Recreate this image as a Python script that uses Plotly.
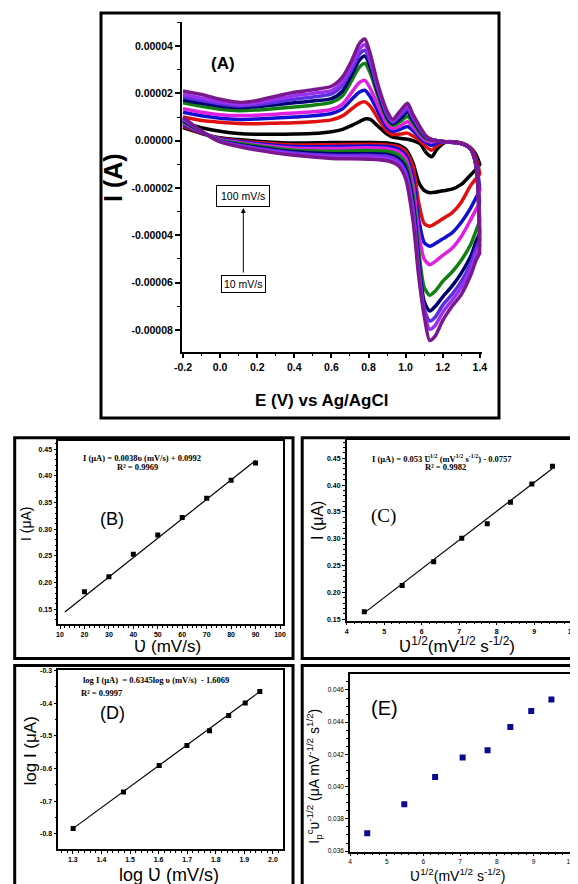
import plotly.graph_objects as go

# The page body adds an 8 px margin, so the figure is sized and positioned to compensate.
OFF = 8
W, H = 570, 876

# ---------------- Panel A: cyclic voltammograms (current in units of 1e-5 A) ----------------
E_fwd = [-0.2, -0.1, 0.0, 0.1, 0.2, 0.3, 0.4, 0.5, 0.6, 0.66, 0.71, 0.75, 0.78, 0.81, 0.85,
         0.9, 0.93, 0.97, 1.01, 1.04, 1.08, 1.11, 1.14, 1.17, 1.22, 1.3, 1.35, 1.38, 1.4]
E_rev = [1.4, 1.38, 1.35, 1.3, 1.25, 1.2, 1.16, 1.13, 1.1, 1.07, 1.04, 1.0, 0.96, 0.9, 0.8,
         0.6, 0.4, 0.2, 0.0, -0.1, -0.2]

cv_rates = ["10 mV/s", "20 mV/s", "30 mV/s", "40 mV/s", "50 mV/s",
            "60 mV/s", "70 mV/s", "80 mV/s", "90 mV/s"]
cv_colors = ["#000000", "#e01010", "#1010d0", "#e020e0", "#108010",
             "#000070", "#5a30e0", "#9a30f0", "#7a1890"]

cv_fwd_10 = [0.75, 0.55, 0.40, 0.30, 0.27, 0.27, 0.28, 0.30, 0.38, 0.48, 0.65, 0.80, 0.92, 0.90, 0.62,
             0.28, 0.15, 0.10, 0.06, 0.00, -0.15, -0.50, -0.68, -0.35, -0.05, -0.10, -0.30, -0.60, -1.00]
cv_fwd_20 = [1.00, 0.85, 0.78, 0.73, 0.72, 0.74, 0.76, 0.80, 0.88, 1.05, 1.35, 1.58, 1.64, 1.45, 0.95,
             0.40, 0.26, 0.28, 0.32, 0.20, -0.02, -0.25, -0.40, -0.20, -0.05, -0.10, -0.30, -0.75, -1.40]
cv_fwd_30 = [1.20, 1.05, 0.95, 0.90, 0.92, 0.96, 1.00, 1.05, 1.15, 1.35, 1.75, 2.05, 2.13, 1.85, 1.25,
             0.55, 0.40, 0.48, 0.60, 0.42, 0.10, -0.08, -0.20, -0.10, -0.05, -0.12, -0.35, -0.90, -2.10]
cv_fwd_40 = [1.35, 1.20, 1.10, 1.06, 1.08, 1.12, 1.17, 1.22, 1.32, 1.55, 2.05, 2.45, 2.55, 2.20, 1.50,
             0.70, 0.50, 0.62, 0.80, 0.58, 0.20, 0.00, -0.05, -0.02, -0.05, -0.12, -0.35, -1.00, -2.60]
cv_fwd_50 = [1.60, 1.45, 1.33, 1.27, 1.30, 1.36, 1.42, 1.50, 1.62, 1.90, 2.55, 3.10, 3.26, 2.85, 1.90,
             0.90, 0.65, 0.80, 1.02, 0.75, 0.30, 0.08, 0.02, 0.00, -0.05, -0.12, -0.35, -1.05, -3.40]
cv_fwd_60 = [1.72, 1.58, 1.46, 1.40, 1.44, 1.52, 1.60, 1.68, 1.78, 2.10, 2.80, 3.40, 3.58, 3.10, 2.05,
             1.00, 0.72, 0.92, 1.20, 0.85, 0.38, 0.12, 0.04, 0.00, -0.05, -0.12, -0.35, -1.05, -3.90]
cv_fwd_70 = [1.85, 1.70, 1.56, 1.47, 1.52, 1.62, 1.75, 1.85, 1.98, 2.35, 3.00, 3.65, 3.82, 3.30, 2.20,
             1.10, 0.78, 1.05, 1.33, 0.95, 0.45, 0.15, 0.05, 0.00, -0.05, -0.12, -0.35, -1.08, -4.20]
cv_fwd_80 = [1.95, 1.80, 1.64, 1.53, 1.60, 1.75, 1.90, 2.00, 2.12, 2.50, 3.20, 3.85, 4.05, 3.45, 2.30,
             1.18, 0.84, 1.15, 1.45, 1.02, 0.50, 0.18, 0.05, 0.00, -0.05, -0.12, -0.35, -1.10, -4.45]
cv_fwd_90 = [2.10, 1.95, 1.75, 1.62, 1.70, 1.88, 2.05, 2.15, 2.30, 2.70, 3.40, 4.10, 4.30, 3.65, 2.40,
             1.25, 0.90, 1.25, 1.58, 1.10, 0.55, 0.20, 0.05, 0.00, -0.05, -0.12, -0.35, -1.10, -4.75]

cv_rev_10 = [-1.00, -1.20, -1.45, -1.85, -2.05, -2.12, -2.18, -2.20, -2.10, -1.75, -0.95, -0.35, -0.18,
             -0.10, -0.08, -0.08, -0.10, -0.02, 0.12, 0.30, 0.55]
cv_rev_20 = [-1.40, -1.60, -1.90, -2.60, -3.05, -3.30, -3.50, -3.62, -3.50, -2.60, -1.10, -0.45, -0.25,
             -0.18, -0.15, -0.17, -0.18, -0.08, 0.10, 0.32, 0.62]
cv_rev_30 = [-2.10, -2.40, -2.85, -3.45, -3.90, -4.15, -4.35, -4.46, -4.30, -3.30, -1.55, -0.60, -0.35,
             -0.25, -0.22, -0.25, -0.25, -0.12, 0.08, 0.34, 0.68]
cv_rev_40 = [-2.60, -2.90, -3.35, -4.05, -4.55, -4.85, -5.10, -5.24, -5.00, -3.90, -1.90, -0.75, -0.45,
             -0.33, -0.30, -0.33, -0.32, -0.17, 0.05, 0.36, 0.74]
cv_rev_50 = [-3.40, -3.80, -4.40, -5.05, -5.55, -5.95, -6.35, -6.53, -6.20, -4.60, -2.30, -0.95, -0.60,
             -0.45, -0.42, -0.45, -0.40, -0.22, 0.02, 0.37, 0.80]
cv_rev_60 = [-3.90, -4.25, -4.90, -5.60, -6.15, -6.60, -7.00, -7.20, -6.80, -5.00, -2.60, -1.15, -0.75,
             -0.58, -0.55, -0.55, -0.47, -0.28, -0.01, 0.38, 0.85]
cv_rev_70 = [-4.20, -4.55, -5.20, -5.95, -6.50, -6.95, -7.45, -7.62, -7.10, -5.30, -2.85, -1.30, -0.85,
             -0.66, -0.62, -0.62, -0.52, -0.32, -0.02, 0.39, 0.90]
cv_rev_80 = [-4.45, -4.80, -5.45, -6.20, -6.75, -7.25, -7.80, -7.97, -7.25, -5.50, -3.10, -1.45, -0.95,
             -0.75, -0.70, -0.68, -0.57, -0.36, -0.03, 0.40, 0.95]
cv_rev_90 = [-4.75, -5.05, -5.70, -6.50, -7.00, -7.60, -8.25, -8.45, -7.40, -5.70, -3.40, -1.60, -1.05,
             -0.85, -0.78, -0.75, -0.62, -0.40, -0.05, 0.40, 1.00]

cv_fwd = [cv_fwd_10, cv_fwd_20, cv_fwd_30, cv_fwd_40, cv_fwd_50, cv_fwd_60, cv_fwd_70, cv_fwd_80, cv_fwd_90]
cv_rev = [cv_rev_10, cv_rev_20, cv_rev_30, cv_rev_40, cv_rev_50, cv_rev_60, cv_rev_70, cv_rev_80, cv_rev_90]
I_UNIT = 1e-5

a_xticks = [-0.2, 0.0, 0.2, 0.4, 0.6, 0.8, 1.0, 1.2, 1.4]
a_xticktext = ["-0.2", "0.0", "0.2", "0.4", "0.6", "0.8", "1.0", "1.2", "1.4"]
a_yticks = [4e-5, 2e-5, 0.0, -2e-5, -4e-5, -6e-5, -8e-5]
a_yticktext = ["0.00004", "0.00002", "0.00000", "-0.00002", "-0.00004", "-0.00006", "-0.00008"]

# ---------------- Panels B-E ----------------
scan_rate = [20, 30, 40, 50, 60, 70, 80, 90]
ip_B = [0.183, 0.211, 0.253, 0.289, 0.322, 0.358, 0.392, 0.424]
fitB_x = [12, 90]
fitB_y = [0.145, 0.429]

sqrt_rate = [4.47, 5.48, 6.32, 7.07, 7.75, 8.37, 8.94, 9.49]
ip_C = [0.164, 0.213, 0.257, 0.301, 0.328, 0.368, 0.402, 0.435]
fitC_x = [4.47, 9.49]
fitC_y = [0.162, 0.431]

log_rate = [1.301, 1.477, 1.602, 1.699, 1.778, 1.845, 1.903, 1.954]
log_ip = [-0.783, -0.672, -0.591, -0.530, -0.485, -0.438, -0.400, -0.365]
fitD_x = [1.301, 1.954]
fitD_y = [-0.783, -0.365]
d_yticks = [-0.8, -0.7, -0.6, -0.5, -0.4, -0.3]
d_yticktext = ["-0.8", "-0.7", "-0.6", "-0.5", "-0.4", "-0.3"]

ip_norm_E = [0.0371, 0.0389, 0.0406, 0.0418, 0.04225, 0.0437, 0.0447, 0.0454]

# ---------------- helpers (screen pixel -> paper fraction) ----------------
def px(x):
    return (x - OFF) / W

def py(y):
    return 1 - (y - OFF) / H

SANS = "Liberation Sans"
SERIF = "Liberation Serif"

fig = go.Figure()

# Panel A traces
for name, col, f, r in zip(cv_rates, cv_colors, cv_fwd, cv_rev):
    fig.add_trace(go.Scatter(
        x=E_fwd + E_rev, y=[v * I_UNIT for v in (f + r)],
        mode="lines", line=dict(color=col, width=3.5, shape="spline", smoothing=0.7),
        name=name, xaxis="x", yaxis="y", showlegend=False))

# Panel B
fig.add_trace(go.Scatter(x=fitB_x, y=fitB_y, mode="lines", line=dict(color="black", width=1.2),
                         xaxis="x2", yaxis="y2", showlegend=False))
fig.add_trace(go.Scatter(x=scan_rate, y=ip_B, mode="markers",
                         marker=dict(symbol="square", size=5, color="black"),
                         xaxis="x2", yaxis="y2", showlegend=False))
# Panel C
fig.add_trace(go.Scatter(x=fitC_x, y=fitC_y, mode="lines", line=dict(color="black", width=1.2),
                         xaxis="x3", yaxis="y3", showlegend=False))
fig.add_trace(go.Scatter(x=sqrt_rate, y=ip_C, mode="markers",
                         marker=dict(symbol="square", size=5, color="black"),
                         xaxis="x3", yaxis="y3", showlegend=False))
# Panel D
fig.add_trace(go.Scatter(x=fitD_x, y=fitD_y, mode="lines", line=dict(color="black", width=1.2),
                         xaxis="x4", yaxis="y4", showlegend=False))
fig.add_trace(go.Scatter(x=log_rate, y=log_ip, mode="markers",
                         marker=dict(symbol="square", size=5, color="black"),
                         xaxis="x4", yaxis="y4", showlegend=False))
# Panel E
fig.add_trace(go.Scatter(x=sqrt_rate, y=ip_norm_E, mode="markers",
                         marker=dict(symbol="square", size=6, color="#0a0a90"),
                         xaxis="x5", yaxis="y5", showlegend=False))

small_tick = dict(family=SANS, size=7, color="black", weight="bold")

def small_axis(domain, rng, mirror=True, **kw):
    d = dict(domain=domain, range=rng, showline=True, linecolor="black", linewidth=1.5,
             mirror=mirror, ticks="outside", ticklen=3, tickwidth=1, tickcolor="black",
             showgrid=False, zeroline=False, tickfont=small_tick, automargin=False,
             minor=dict(ticks="outside", ticklen=2, tickcolor="black"))
    d.update(kw)
    return d

layout = dict(
    template="none",
    width=W, height=H, autosize=False, margin=dict(l=0, r=0, t=0, b=0, pad=0),
    paper_bgcolor="white", plot_bgcolor="rgba(0,0,0,0)", showlegend=False,
    xaxis=dict(domain=[px(181.7), px(481.7)], range=[-0.207, 1.41], anchor="y", automargin=False,
               showline=True, linecolor="black", linewidth=1.5, mirror=False,
               ticks="outside", ticklen=5, tickwidth=1.5, tickcolor="black",
               tickmode="array", tickvals=a_xticks, ticktext=a_xticktext,
               tickfont=dict(family=SANS, size=10.5, color="black", weight="bold"),
               minor=dict(ticks="outside", ticklen=3, tickwidth=1, tickcolor="black", dtick=0.1, tick0=-0.2),
               showgrid=False, zeroline=False),
    yaxis=dict(domain=[py(351.7), py(21.7)], range=[-8.92e-5, 5.03e-5], anchor="x", automargin=False,
               showline=True, linecolor="black", linewidth=1.5, mirror=False,
               ticks="outside", ticklen=5, tickwidth=1.5, tickcolor="black",
               tickmode="array", tickvals=a_yticks, ticktext=a_yticktext,
               tickfont=dict(family=SANS, size=10.5, color="black", weight="bold"),
               minor=dict(ticks="outside", ticklen=3, tickwidth=1, tickcolor="black", dtick=1e-5, tick0=0),
               showgrid=False, zeroline=False),
    xaxis2=small_axis([px(58.3), px(282.7)], [9.3, 101.1], anchor="y2", dtick=10, tick0=10),
    yaxis2=small_axis([py(624), py(440.7)], [0.1224, 0.466], anchor="x2", dtick=0.05, tick0=0.15,
                      tickformat=".2f"),
    xaxis3=small_axis([px(346.7), px(572.7)], [4, 10.03], anchor="y3", dtick=1, tick0=4),
    yaxis3=small_axis([py(620.7), py(440)], [0.1474, 0.484], anchor="x3", dtick=0.05, tick0=0.15,
                      tickformat=".2f"),
    xaxis4=small_axis([px(58.3), px(282.7)], [1.249, 2.034], anchor="y4", dtick=0.1, tick0=1.3,
                      tickformat=".1f"),
    yaxis4=small_axis([py(849), py(670)], [-0.846, -0.299], anchor="x4", tickmode="array",
                      tickvals=d_yticks, ticktext=d_yticktext),
    xaxis5=small_axis([px(350), px(572.7)], [4, 10.07], anchor="y5", dtick=1, tick0=4,
                      tickfont=dict(family=SANS, size=6.5, color="black")),
    yaxis5=small_axis([py(851.7), py(674)], [0.03596, 0.04699], anchor="x5", dtick=0.002, tick0=0.036,
                      tickformat=".3f", tickfont=dict(family=SANS, size=6.5, color="black")),
)
fig.update_layout(**layout)

# Frames around panels
frames = [(101, 13, 499, 418), (14.7, 437.7, 293, 658.5), (302.2, 437.7, 576.9, 658.5),
          (14.7, 665.5, 293, 892), (302.2, 665.5, 576.9, 892)]
for x0, y0, x1, y1 in frames:
    fig.add_shape(type="rect", xref="paper", yref="paper", x0=px(x0), x1=px(x1), y0=py(y1), y1=py(y0),
                  line=dict(color="black", width=3), fillcolor="rgba(0,0,0,0)", layer="above")

def note(text, x, y, size, family=SANS, bold=False, angle=0, **kw):
    fig.add_annotation(text=("<b>%s</b>" % text) if bold else text, x=px(x), y=py(y),
                       xref="paper", yref="paper", showarrow=False, textangle=angle,
                       xanchor="center", yanchor="middle",
                       font=dict(family=family, size=size, color="black"), **kw)

# Panel A texts
note("(A)", 222.5, 63.5, 17, bold=True)
note("E (V) vs Ag/AgCl", 321.7, 400, 17, bold=True)
note("I (A)", 113, 178, 25, bold=True, angle=-90)
note("100 mV/s", 243.3, 196, 10.5, bordercolor="black", borderwidth=1, borderpad=4, bgcolor="white")
note("10 mV/s", 243.3, 283.5, 10.5, bordercolor="black", borderwidth=1, borderpad=2, bgcolor="white")
fig.add_annotation(x=px(243.3), y=py(208), xref="paper", yref="paper", ax=0, ay=66,
                   showarrow=True, arrowhead=2, arrowsize=1,
                   arrowwidth=1, arrowcolor="black", text="")

# Panel B texts
note("I (μA) = 0.0038υ (mV/s) + 0.0992", 141.7, 458.3, 8.5, family=SERIF, bold=True)
note("R² = 0.9969", 137.5, 466.7, 8.5, family=SERIF, bold=True)
note("(B)", 112.5, 519, 18)
note("I (μA)", 26, 524, 14, angle=-90)
note("Ʋ (mV/s)", 167.5, 646, 17)

# Panel C texts
note("I (μA) = 0.053 Ʋ<sup>1/2</sup> (mV<sup>1/2</sup> s<sup>-1/2</sup>) - 0.0757", 441.7, 458.3, 8.5,
     family=SERIF, bold=True)
note("R² = 0.9982", 445, 466.7, 8.5, family=SERIF, bold=True)
note("(C)", 383, 516, 19, family=SERIF)
note("I (μA)", 317, 521, 16, angle=-90)
note("Ʋ<sup>1/2</sup>(mV<sup>1/2</sup> s<sup>-1/2</sup>)", 456.7, 645, 17)

# Panel D texts
note("log I (μA)  = 0.6345log υ (mV/s)  - 1.6069", 156, 680, 8.5, family=SERIF, bold=True)
note("R² = 0.9997", 102, 693.3, 8.5, family=SERIF, bold=True)
note("(D)", 112.5, 713, 18)
note("log I (μA)", 30, 751.5, 17, angle=-90)
note("log Ʋ (mV/s)", 168.5, 875, 18)

# Panel E texts
note("(E)", 384, 708, 20)
note("I<sub>p</sub><sup>c</sup>υ<sup>-1/2</sup> (μA mV<sup>-1/2</sup> s<sup>1/2</sup>)", 314, 776.7, 14,
     angle=-90)
note("Ʋ<sup>1/2</sup>(mV<sup>1/2</sup> s<sup>-1/2</sup>)", 458, 875, 14)

fig.write_html("out.html")
